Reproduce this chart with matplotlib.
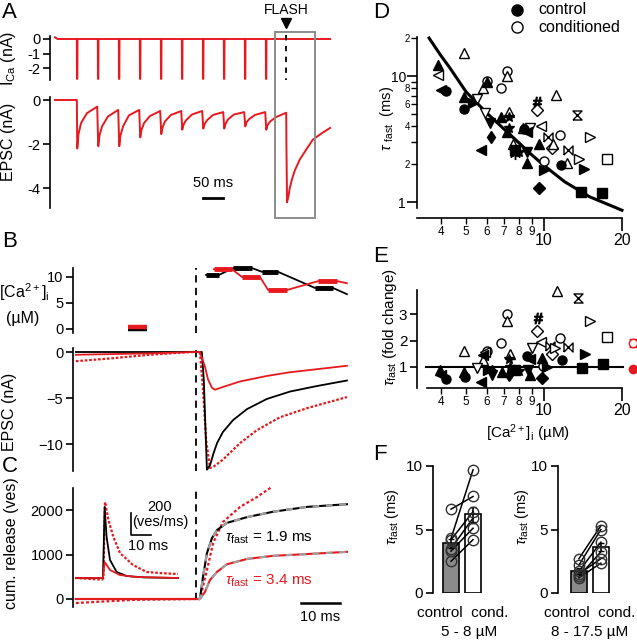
import numpy as np
import matplotlib.pyplot as plt
from matplotlib.patches import Rectangle
from matplotlib.lines import Line2D
from matplotlib.ticker import FixedLocator, FixedFormatter

plt.rcParams['font.family'] = ['Liberation Sans', 'DejaVu Sans']
plt.rcParams['mathtext.fontset'] = 'custom'
plt.rcParams['mathtext.rm'] = 'Liberation Sans'
plt.rcParams['mathtext.it'] = 'Liberation Sans:italic'
plt.rcParams['axes.linewidth'] = 1.2
plt.rcParams['xtick.major.width'] = 1.2
plt.rcParams['ytick.major.width'] = 1.2
plt.rcParams['xtick.minor.width'] = 1.0
plt.rcParams['ytick.minor.width'] = 1.0

W, H = 637, 640
RED = '#e8191e'

# ---------------- panel A: train + flash (ms, nA)
pulse_t = [52, 102, 152, 202, 252, 302, 352, 402, 452, 502]
ica_peak = [-2.75, -2.75, -2.75, -2.75, -2.75, -2.75, -2.75, -2.75, -2.75, -2.75]
epsc_peak = [-2.2, -2.1, -2.1, -1.7, -1.55, -1.35, -1.3, -1.3, -1.2, -1.35]
epsc_4ms = [-1.55, -1.6, -1.6, -1.35, -1.25, -1.12, -1.1, -1.08, -1.02, -1.15]
epsc_10ms = [-1.05, -1.2, -1.2, -1.05, -0.97, -0.92, -0.92, -0.88, -0.87, -0.98]
epsc_24ms = [-0.6, -0.75, -0.7, -0.73, -0.68, -0.66, -0.68, -0.66, -0.68, -0.78]
epsc_48ms = [-0.3, -0.45, -0.45, -0.5, -0.5, -0.5, -0.55, -0.55, -0.55, -0.58]
flash_t = 550
flash_resp_t = [551, 552.5, 556, 559, 565, 571, 583, 600, 614, 636, 655]
flash_resp = [-2.0, -4.65, -4.35, -4.0, -3.55, -3.2, -2.7, -2.2, -1.8, -1.5, -1.27]

# ---------------- panel B: [Ca]i (uM) and EPSC (nA), ms rel. to flash
ca_pre_t = [-17.4, -12.6]
ca_pre_black = 0.0
ca_pre_red = 0.4
ca_blk_start = [2.6, 9.5, 16.9, 30.5]
ca_blk_end = [5.9, 14.4, 21.0, 35.1]
ca_blk = [10.4, 11.7, 11.0, 7.9]
ca_red_start = [4.6, 11.8, 18.5, 31.3]
ca_red_end = [9.2, 16.4, 23.3, 36.2]
ca_red = [11.5, 10.0, 7.5, 9.2]
ca_tail_t = 38.7
ca_blk_tail = 6.7
ca_red_tail = 8.8

b_blk_t = [-30.8, 0, 1.5, 2.0, 2.4, 2.8, 3.6, 4.5, 5.4, 6.9, 9.5, 13.1, 18.2, 24.1, 31.0, 38.7]
b_blk = [0, 0, 0, -3.0, -8.0, -12.8, -12.3, -11.0, -9.9, -8.7, -7.4, -6.2, -5.1, -4.3, -3.7, -3.1]
b_red_t = [-30.8, -11.8, 0, 1.0, 2.3, 3.1, 4.1, 4.9, 6.9, 11.3, 18.2, 24.1, 38.7]
b_red = [-0.3, -0.15, 0, 0, -1.6, -3.0, -3.9, -4.1, -3.8, -3.2, -2.6, -2.2, -1.5]
b_dot_t = [-30.8, -22, -11.8, -1.5, 1.0, 1.8, 2.6, 3.6, 4.4, 6.9, 11.3, 15.6, 21.5, 28.5, 38.7]
b_dot = [-1.0, -0.7, -0.3, 0, 0, -4.1, -9.6, -12.6, -12.5, -11.7, -9.9, -8.5, -7.1, -6.1, -4.9]

# ---------------- panel C: cumulative release (ves)
c_blk_t = [-30.8, 0.5, 1.0, 1.8, 2.8, 4.1, 5.4, 7.9, 13.1, 19.7, 28.5, 38.7]
c_blk = [0, 0, 0, 500, 1030, 1370, 1550, 1710, 1840, 1960, 2070, 2130]
c_red_t = [-30.8, 0.5, 1.0, 2.3, 3.6, 5.4, 7.9, 13.1, 19.7, 28.5, 38.7]
c_red = [0, 0, 0, 160, 430, 610, 780, 900, 970, 1010, 1060]
c_dot_t = [-30.8, -16, 0, 1.0, 2.8, 4.4, 6.9, 11.3, 15.6, 19.5]
c_dot = [-90, -20, 0, 0, 650, 1260, 1730, 2070, 2290, 2520]

# inset: release rate (ves/ms)
ins_blk_t = [0, 14, 14.8, 15.8, 17.5, 20.8, 25.8, 35, 51.5]
ins_blk = [0, 0, 645, 373, 164, 55, 18, 5, 0]
ins_dot_t = [0, 13.5, 14.2, 15.0, 16.7, 19.2, 22.5, 29, 35.8, 42.5, 51.5]
ins_dot = [0, -15, 0, 690, 527, 373, 227, 118, 55, 45, 36]
ins_red_t = [0, 14, 14.8, 17.5, 22.5, 30, 51.5]
ins_red = [0, 0, 145, 73, 27, 10, 0]

# ---------------- panel D / E scatter (uM, ms / fold)
d_ctrl_x = [3.9, 4.0, 4.2, 4.9, 4.9, 5.3, 6.2, 6.25, 5.7, 6.8, 7.3, 7.3, 7.2, 7.7, 8.0, 8.4, 8.6, 8.6, 8.6, 9.6, 9.6, 10.0, 11.6, 14.3, 13.9, 16.7, 6.0]
d_ctrl_y = [12.2, 7.8, 7.6, 5.5, 6.8, 6.1, 4.2, 3.3, 2.6, 4.7, 4.7, 3.9, 3.6, 2.6, 2.5, 3.8, 3.6, 2.5, 2.05, 2.9, 1.3, 1.8, 1.97, 1.83, 1.2, 1.18, 9.0]
d_ctrl_m = ['^', '<', 'o', 'o', '^', '>', 'v', 'd', '<', '^', '*', '*', '^', 's', '*', 'o', '<', 'v', '^', '^', 'D', '>', 'o', '>', 's', 's', '^']
d_cond_x = [4.9, 3.9, 6.0, 5.8, 7.2, 7.2, 6.8, 5.5, 5.9, 7.3, 9.4, 9.4, 11.1, 8.8, 8.3, 9.7, 10.4, 11.5, 10.7, 10.8, 13.4, 15.0, 12.4, 13.6, 17.5, 10.0, 12.3, 7.7, 7.6]
d_cond_y = [15.2, 10.2, 9.1, 8.0, 11.0, 10.0, 8.0, 6.6, 5.1, 5.2, 6.2, 5.4, 7.1, 3.9, 3.9, 4.0, 3.3, 3.4, 2.7, 2.9, 4.9, 3.3, 2.6, 2.2, 2.2, 2.1, 2.05, 2.4, 2.9]
d_cond_m = ['^', '<', 'o', '^', 'o', '^', 'o', 'v', 'v', '^', 'hash', 'D', '^', 'v', '^', '<', 'bow', 'o', 'D', '^', 'hour', '>', 'bow', '>', 's', 'o', '^', 'ast', '^']
fit_x = [3.6, 4, 4.33, 5, 6, 7, 8, 9, 10, 12, 15, 20]
fit_y = [20, 14.5, 11.6, 7.5, 5.1, 3.8, 2.95, 2.35, 1.95, 1.45, 1.1, 0.86]

e_ctrl_x = [3.95, 4.0, 4.2, 4.95, 4.9, 5.8, 5.7, 6.3, 6.1, 6.9, 7.3, 7.4, 7.3, 7.7, 8.0, 8.6, 8.8, 8.7, 8.8, 9.8, 9.8, 10.3, 11.7, 14.4, 14.0, 16.9, 6.3]
e_ctrl_y = [0.9, 0.7, 0.56, 0.62, 0.8, 1.45, 0.42, 0.7, 0.9, 0.8, 1.3, 1.0, 0.7, 0.9, 0.85, 1.4, 1.3, 0.9, 0.7, 1.35, 0.6, 1.0, 1.25, 1.5, 0.95, 1.1, 0.85]
e_ctrl_m = ['^', '<', 'o', 'o', '^', '<', '<', 'v', '>', '^', '*', '*', 'd', 's', '*', 'o', '<', 'v', '^', '^', 'D', '>', 'o', '>', 's', 's', 'd']
e_cond_x = [4.9, 5.8, 5.5, 6.0, 6.8, 7.2, 7.2, 7.4, 9.5, 9.4, 9.7, 9.0, 10.5, 11.5, 9.9, 10.7, 11.2, 13.5, 15.0, 12.4, 17.5, 11.0, 5.9]
e_cond_y = [1.6, 1.25, 0.95, 1.6, 1.9, 3.0, 2.75, 1.5, 2.85, 2.35, 1.95, 1.7, 1.8, 2.1, 1.05, 1.5, 3.85, 3.6, 2.75, 1.75, 2.15, 1.7, 1.55]
e_cond_m = ['^', '^', 'v', 'o', 'o', 'o', '^', '^', 'hash', 'D', '<', 'v', 'bow', 'o', 'o', 'D', '^', 'hour', '>', 'bow', 's', '>', '<']
e_mean_x = 22.1
e_mean = [1.9, 0.93]
e_mean_err = [0.15, 0.0]

# ---------------- panel F pairs (ms)
f1_ctrl = [4.3, 6.6, 4.2, 3.5, 3.3, 2.5]
f1_cond = [9.7, 7.6, 6.4, 5.9, 5.1, 4.2]
f1_mean = [3.9, 6.2]
f1_sem = [0.35, 0.6]
f2_ctrl = [2.7, 2.2, 1.7, 1.3, 1.2, 1.5]
f2_cond = [5.3, 5.0, 4.0, 3.25, 2.35, 2.7]
f2_mean = [1.75, 3.6]
f2_sem = [0.25, 0.3]

MARK = {'bow': [(-1, -1), (1, 1), (1, -1), (-1, 1), (-1, -1)],
        'hour': [(-1, -1), (1, -1), (-1, 1), (1, 1), (-1, -1)],
        'hash': r'$\#$', 'ast': (6, 2, 0)}


def box(x0, y0, x1, y1):
    return [x0 / W, 1 - y1 / H, (x1 - x0) / W, (y1 - y0) / H]


def ftext(x, y, s, **kw):
    fig.text(x / W, 1 - y / H, s, **kw)


def left_only(ax):
    for s in ['top', 'right', 'bottom']:
        ax.spines[s].set_visible(False)
    ax.tick_params(axis='x', bottom=False, labelbottom=False)
    ax.tick_params(axis='y', direction='out', length=5, pad=2, labelsize=10.5)
    ax.patch.set_alpha(0)


fig = plt.figure(figsize=(6.37, 6.40), dpi=100)

# ================= A
t_to = lambda px: (px - 55) * 50 / 21.0
axI = fig.add_axes(box(50, 36, 335, 80))
left_only(axI)
it, iv = [0, 6], [0.12, 0.0]
for t0, p in zip(pulse_t, ica_peak):
    it += [t0, t0 + 0.3, t0 + 1.2, t0 + 1.6]
    iv += [0, p, p, 0]
it += [655]
iv += [0]
axI.plot(it, iv, color=RED, lw=1.4)
axI.set_xlim(t_to(50), t_to(335))
axI.set_ylim(-41 / 14.5, 3 / 14.5)
axI.set_yticks([0, -1, -2])
axI.set_yticklabels(['0', '-1', '-2'])
axI.plot([flash_t, flash_t], [0.25, -2.8], color='black', lw=1.3, ls=(0, (3, 3)), clip_on=False)
axI.plot([flash_t + 1], [(39 - 23) / 14.5], marker='v', color='black', ms=7, clip_on=False)
axI.text(flash_t + 1, (39 - 10) / 14.5, 'FLASH', ha='center', va='center', fontsize=10)

axE = fig.add_axes(box(50, 97, 335, 208))
left_only(axE)
et, ev = [0, pulse_t[0]], [0, 0]
for i, t0 in enumerate(pulse_t):
    et += [t0 + 1, t0 + 4, t0 + 10, t0 + 24, t0 + 48.5]
    ev += [epsc_peak[i], epsc_4ms[i], epsc_10ms[i], epsc_24ms[i], epsc_48ms[i]]
et += flash_resp_t
ev += flash_resp
axE.plot(et, ev, color=RED, lw=1.4)
axE.set_xlim(t_to(50), t_to(335))
axE.set_ylim(-108 / 22.0, 3 / 22.0)
axE.set_yticks([0, -2, -4])
axE.set_yticklabels(['0', '-2', '-4'])
axE.plot([t_to(203), t_to(223)], [-98 / 22.0] * 2, color='black', lw=2, clip_on=False)
axE.text(t_to(213), -83 / 22.0, '50 ms', ha='center', va='center', fontsize=10.5)

fig.add_artist(Rectangle((275 / W, 1 - 218 / H), 40 / W, 186 / H, transform=fig.transFigure,
                         fill=False, edgecolor='#8c8c8c', lw=1.4))
ftext(9, 58, r'I$_{\rm Ca}$ (nA)', rotation=90, ha='center', va='center', fontsize=11.5)
ftext(9, 142, 'EPSC (nA)', rotation=90, ha='center', va='center', fontsize=11.5)

# ================= B / C common time axis
tb = lambda px: (px - 196) / 3.9
xl = (tb(73), tb(350))

axCa = fig.add_axes(box(73, 268, 350, 333))
left_only(axCa)
axCa.set_xlim(*xl)
axCa.set_ylim(-4 / 5.2, 10 + 9 / 5.2)
axCa.set_yticks([0, 5, 10])
axCa.axvline(0, color='black', lw=1.3, ls=(0, (4, 3)))
axCa.hlines([ca_pre_black], ca_pre_t[0], ca_pre_t[1], color='black', lw=3.2)
axCa.hlines([ca_pre_red], ca_pre_t[0], ca_pre_t[1], color=RED, lw=3.2)
for st, en, val, tail, col in [(ca_blk_start, ca_blk_end, ca_blk, ca_blk_tail, 'black'),
                               (ca_red_start, ca_red_end, ca_red, ca_red_tail, RED)]:
    lt, lv = [], []
    for a, b, v in zip(st, en, val):
        lt += [a, b]
        lv += [v, v]
    lt.append(ca_tail_t)
    lv.append(tail)
    axCa.plot(lt, lv, color=col, lw=1.3, clip_on=False)
    axCa.hlines(val, st, en, color=col, lw=3.5, clip_on=False)
ftext(24, 292, '[Ca$^{2+}$]$_{\\rm i}$', ha='center', va='center', fontsize=11.5)
ftext(23, 319, '(µM)', ha='center', va='center', fontsize=11.5)

axB = fig.add_axes(box(73, 348, 350, 471))
left_only(axB)
axB.set_xlim(*xl)
axB.set_ylim(-119 / 9.2, 4 / 9.2)
axB.set_yticks([0, -5, -10])
axB.axvline(0, color='black', lw=1.3, ls=(0, (4, 3)))
axB.plot(b_dot_t, b_dot, color=RED, lw=1.6, ls=(0, (1.2, 0.8)), clip_on=False)
axB.plot(b_blk_t, b_blk, color='black', lw=1.3, clip_on=False)
axB.plot(b_red_t, b_red, color=RED, lw=1.3, clip_on=False)
ftext(10, 412, 'EPSC (nA)', rotation=90, ha='center', va='center', fontsize=11.5)

axC = fig.add_axes(box(73, 488, 350, 607))
left_only(axC)
axC.set_xlim(*xl)
axC.set_ylim(-8 / 44.5 * 1000, 111 / 44.5 * 1000)
axC.set_yticks([0, 1000, 2000])
axC.plot([0, 0], [-30, 2500], color='black', lw=1.3, ls=(0, (4, 3)))
axC.plot(c_dot_t, c_dot, color=RED, lw=1.6, ls=(0, (1.3, 1.0)), clip_on=False)
axC.plot(c_blk_t, c_blk, color='black', lw=1.5)
axC.plot(c_red_t, c_red, color=RED, lw=1.5)
axC.plot(c_blk_t[1:], c_blk[1:], color='#a0a0a0', lw=1.6, ls=(0, (3, 3)))
axC.plot(c_red_t[1:], c_red[1:], color='#a0a0a0', lw=1.6, ls=(0, (3, 3)))
axC.plot([tb(301), tb(340)], [-4 / 44.5 * 1000] * 2, color='black', lw=1.8, clip_on=False)
ftext(320, 617, '10 ms', ha='center', va='center', fontsize=10.5)
ftext(225, 538, r'$\tau_{\rm fast}$ = 1.9 ms', ha='left', va='center', fontsize=11)
ftext(225, 581, r'$\tau_{\rm fast}$ = 3.4 ms', ha='left', va='center', fontsize=11, color=RED)
ftext(12, 543, 'cum. release (ves)', rotation=90, ha='center', va='center', fontsize=11.5)

axIn = fig.add_axes(box(75, 495, 180, 585))
axIn.axis('off')
axIn.set_xlim(0, 52.5)
axIn.set_ylim(-7 / 0.11, 83 / 0.11)
axIn.plot(ins_dot_t, ins_dot, color=RED, lw=1.6, ls=(0, (1.2, 0.8)))
axIn.plot(ins_blk_t, ins_blk, color='black', lw=1.3)
axIn.plot(ins_red_t, ins_red, color=RED, lw=1.3)
axIn.plot([28, 28, 38], [591, 391, 391], color='black', lw=1.2, clip_on=False)
ftext(160, 507, '200', ha='center', va='center', fontsize=10.5)
ftext(160, 522, '(ves/ms)', ha='center', va='center', fontsize=10.5)
ftext(148, 546, '10 ms', ha='center', va='center', fontsize=10.5)


# ================= D
def scatter_set(ax, xs, ys, ms, filled):
    for x, y, m in zip(xs, ys, ms):
        mk = MARK.get(m, m)
        size = 7.5 if m in ('*', 'hash') else 6.5
        if m == 'ast':
            ax.plot([x], [y], marker=mk, color='black', ms=8, mew=1.0, ls='none', clip_on=False)
            continue
        ax.plot([x], [y], marker=mk, ms=size, ls='none', mec='black', mew=1.0,
                mfc='black' if filled else 'white', clip_on=False)


def log_xaxis(ax):
    ax.set_xscale('log')
    ax.set_xlim(10 ** (1 + (417 - 544) / 259.0), 20)
    ax.xaxis.set_major_locator(FixedLocator([10, 20]))
    ax.xaxis.set_major_formatter(FixedFormatter(['10', '20']))
    ax.xaxis.set_minor_locator(FixedLocator([4, 5, 6, 7, 8, 9]))
    ax.xaxis.set_minor_formatter(FixedFormatter(['4', '5', '6', '7', '8', '9']))
    ax.tick_params(axis='x', which='major', length=9, labelsize=11.5, pad=2)
    ax.tick_params(axis='x', which='minor', length=4, labelsize=8.5, pad=2)


axD = fig.add_axes(box(417, 37, 622, 208))
for s in ['top', 'right']:
    axD.spines[s].set_visible(False)
axD.patch.set_alpha(0)
axD.set_yscale('log')
axD.set_ylim(10 ** (-6 / 126.0), 10 ** (165 / 126.0))
log_xaxis(axD)
axD.spines['bottom'].set_position(('outward', 7))
axD.yaxis.set_major_locator(FixedLocator([1, 10]))
axD.yaxis.set_major_formatter(FixedFormatter(['1', '10']))
axD.yaxis.set_minor_locator(FixedLocator([2, 3, 4, 5, 6, 7, 8, 9, 20]))
axD.yaxis.set_minor_formatter(FixedFormatter(['2', '', '4', '', '6', '', '8', '', '2']))
axD.tick_params(axis='y', which='major', length=7, labelsize=10, pad=1)
axD.tick_params(axis='y', which='minor', length=4, labelsize=7, pad=1)
axD.plot(fit_x, fit_y, color='black', lw=2.2, clip_on=False)
scatter_set(axD, d_cond_x, d_cond_y, d_cond_m, False)
scatter_set(axD, d_ctrl_x, d_ctrl_y, d_ctrl_m, True)
ftext(387, 118, r'$\tau$ $_{\rm fast}$  (ms)', rotation=90, ha='center', va='center', fontsize=10.5)
fig.add_artist(Line2D([517 / W], [1 - 10 / H], marker='o', ms=8, color='black', transform=fig.transFigure))
fig.add_artist(Line2D([517 / W], [1 - 27 / H], marker='o', ms=8, mfc='white', mec='black',
                      transform=fig.transFigure))
ftext(538, 10, 'control', ha='left', va='center', fontsize=11.5)
ftext(538, 27, 'conditioned', ha='left', va='center', fontsize=11.5)

# ================= E
axF = fig.add_axes(box(417, 290, 622, 388))
for s in ['top', 'right']:
    axF.spines[s].set_visible(False)
axF.patch.set_alpha(0)
log_xaxis(axF)
axF.spines['bottom'].set_bounds(10 ** (1 + (427 - 544) / 259.0), 20)
axF.set_ylim(1 - 21 / 26.5, 1 + 77 / 26.5)
axF.set_yticks([1, 2, 3])
axF.tick_params(axis='y', length=5, labelsize=11, pad=2)
axF.plot([3.5, 20.2], [1, 1], color='black', lw=1.5, clip_on=False)
scatter_set(axF, e_cond_x, e_cond_y, e_cond_m, False)
scatter_set(axF, e_ctrl_x, e_ctrl_y, e_ctrl_m, True)
axF.errorbar([e_mean_x], [e_mean[0]], yerr=[e_mean_err[0]], fmt='o', ms=6, mfc='white', mec=RED,
             ecolor=RED, capsize=3, clip_on=False)
axF.plot([e_mean_x], [e_mean[1]], 'o', ms=6, color=RED, clip_on=False)
ftext(390, 327, r'$\tau_{\rm fast}$ (fold change)', rotation=90, ha='center', va='center', fontsize=11)
ftext(528, 433, '[Ca$^{2+}$]$_{\\rm i}$ (µM)', ha='center', va='center', fontsize=11)


# ================= F
def bar_panel(x0, xl0, ctrl, cond, mean, sem, ylab_x, lab_x, range_lab, range_x):
    ax = fig.add_axes(box(x0, 466, x0 + 59, 593))
    for s in ['top', 'right', 'bottom']:
        ax.spines[s].set_visible(False)
    ax.patch.set_alpha(0)
    ax.tick_params(axis='x', bottom=False, labelbottom=False)
    ax.tick_params(axis='y', length=5, labelsize=11, pad=2)
    ax.set_xlim(xl0, xl0 + 59 / 22.0)
    ax.set_ylim(0, 10)
    ax.set_yticks([0, 5, 10])
    ax.bar([0, 1], mean, width=0.73, color=['#8a8a8a', 'white'], edgecolor='black', lw=1.2,
           yerr=sem, error_kw=dict(ecolor='black', capsize=2.5, lw=1.2), zorder=2)
    for a, b in zip(ctrl, cond):
        ax.plot([0, 1], [a, b], color='black', lw=1.1, zorder=3)
    ax.plot([0] * len(ctrl), ctrl, 'o', ms=7.5, mfc='none', mec='#303030', mew=1.0, zorder=4, clip_on=False)
    ax.plot([1] * len(cond), cond, 'o', ms=7.5, mfc='none', mec='#303030', mew=1.0, zorder=4, clip_on=False)
    ftext(ylab_x, 517, r'$\tau_{\rm fast}$ (ms)', rotation=90, ha='center', va='center', fontsize=10.5)
    ftext(lab_x, 613, 'control  cond.', ha='center', va='center', fontsize=11)
    ftext(range_x, 632, range_lab, ha='center', va='center', fontsize=11)


bar_panel(433, -0.82, f1_ctrl, f1_cond, f1_mean, f1_sem, 392, 463, '5 - 8 µM', 469)
bar_panel(558, -0.95, f2_ctrl, f2_cond, f2_mean, f2_sem, 522, 590, '8 - 17.5 µM', 590)

# panel letters
for lab, x, y in [('A', 2, 2), ('B', 2, 231), ('C', 2, 456), ('D', 373, 2), ('E', 373, 246), ('F', 373, 444)]:
    ftext(x, y, lab, ha='left', va='top', fontsize=16)

fig.savefig('out.png', dpi=100)
